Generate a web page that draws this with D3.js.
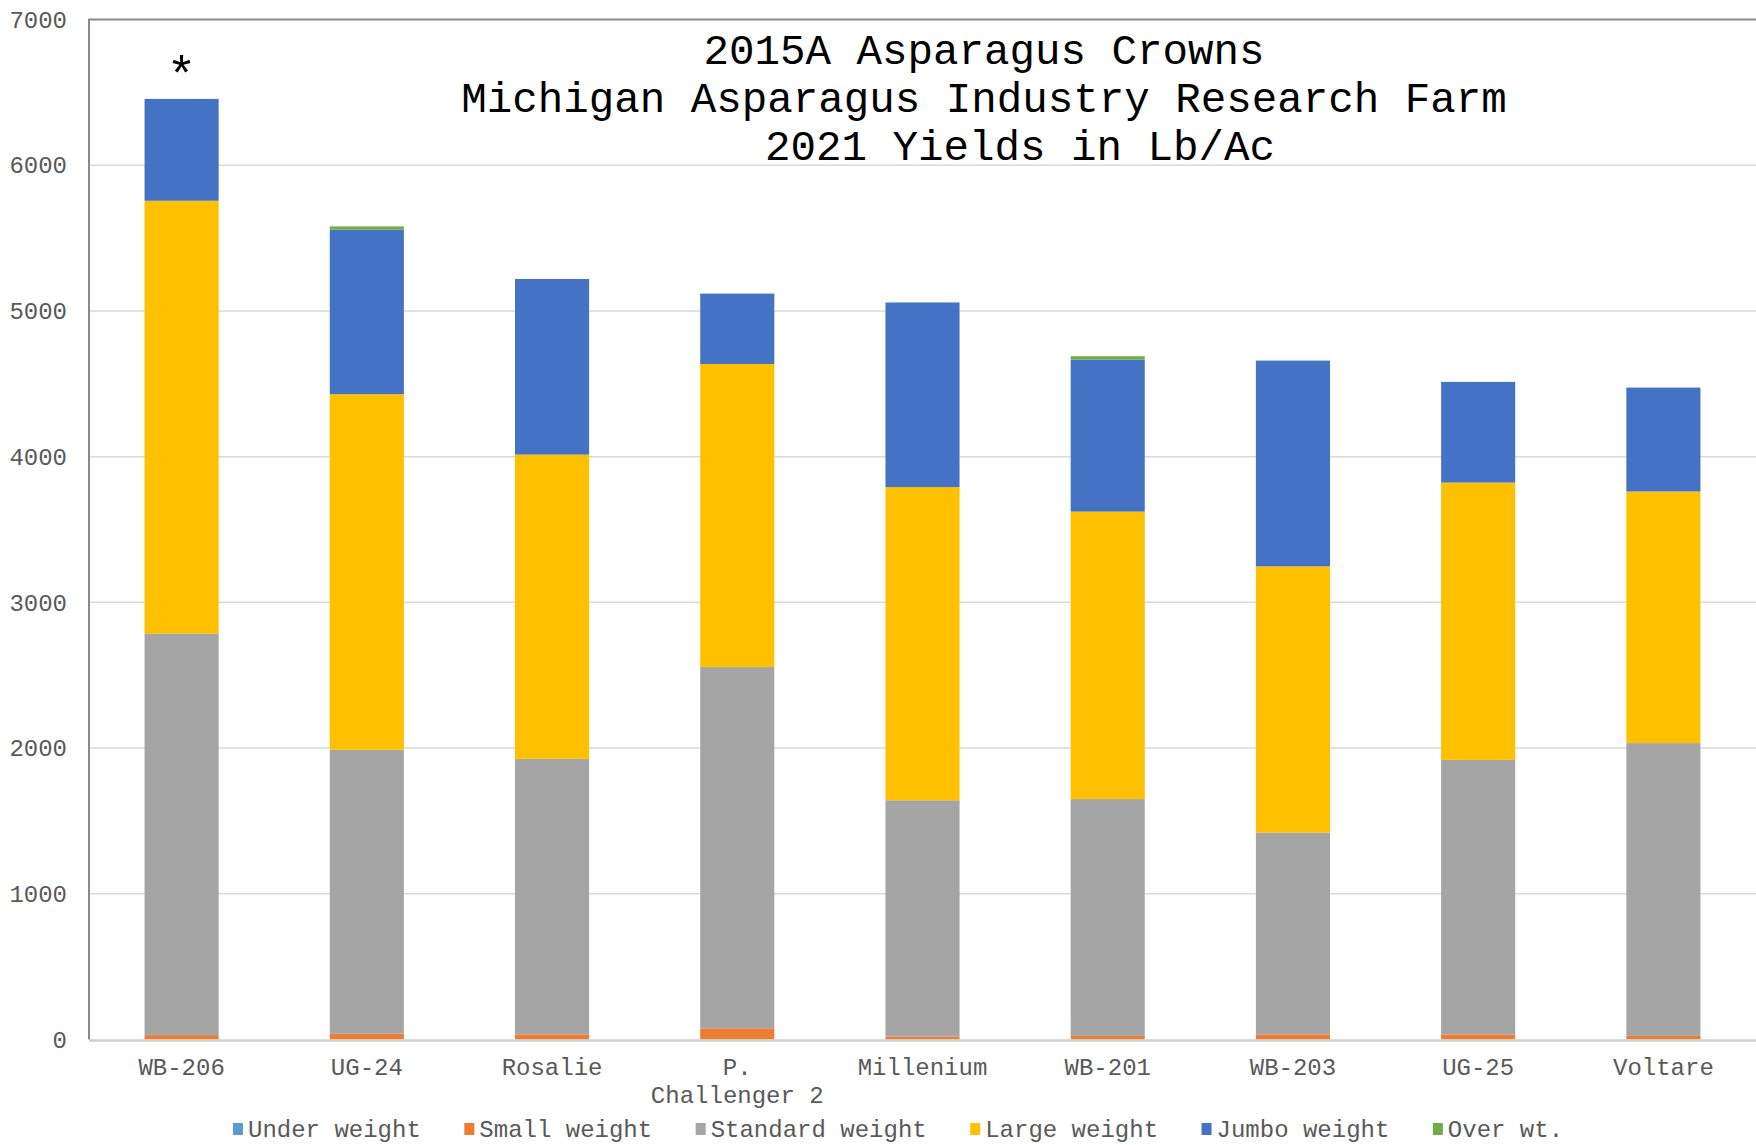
<!DOCTYPE html>
<html>
<head>
<meta charset="utf-8">
<script src="https://cdn.jsdelivr.net/npm/d3@7"></script>
<style>
    body { margin: 0; background: #fff; }
    svg text { font-family: "Courier New", "Liberation Mono", monospace; }
</style>
</head>
<body>
<div id="chart"></div>
<script>
"use strict";

// categories (a "|" splits a label over two lines)
var varieties = ["WB-206", "UG-24", "Rosalie", "P.|Challenger 2", "Millenium", "WB-201", "WB-203", "UG-25", "Voltare"];

// series names and colours, bottom to top
var seriesNames = ["Under weight", "Small weight", "Standard weight", "Large weight", "Jumbo weight", "Over wt."];
var seriesColors = ["#5B9BD5", "#ED7D31", "#A5A5A5", "#FFC000", "#4472C4", "#70AD47"];

// yields in Lb/Ac, one value per variety
var underWeight    = [0, 0, 0, 0, 0, 0, 0, 0, 0];
var smallWeight    = [30, 40, 35, 77, 20, 25, 35, 35, 25];
var standardWeight = [2756, 1948, 1891, 2479, 1622, 1625, 1385, 1884, 2009];
var largeWeight    = [2970, 2441, 2088, 2080, 2149, 1973, 1827, 1903, 1727];
var jumboWeight    = [699, 1128, 1205, 483, 1267, 1043, 1412, 691, 713];
var overWeight     = [0, 23, 0, 0, 0, 23, 0, 0, 0];

var yTicks = [0, 1000, 2000, 3000, 4000, 5000, 6000, 7000];

var titleLines = ["2015A Asparagus Crowns", "Michigan Asparagus Industry Research Farm", "2021 Yields in Lb/Ac"];

var width = 1756, height = 1145;
var margin = { top: 19.5, left: 89, right: 0, bottom: 105.5 };

var svg = d3.select("#chart").append("svg")
    .attr("width", width)
    .attr("height", height);

// build the table for d3.stack
var allSeries = [underWeight, smallWeight, standardWeight, largeWeight, jumboWeight, overWeight];
var table = varieties.map(function (v, i) {
    var row = { variety: v };
    seriesNames.forEach(function (s, j) { row[s] = allSeries[j][i]; });
    return row;
});

var stacked = d3.stack().keys(seriesNames)(table);

// scales
var xScale = d3.scaleBand()
    .domain(varieties)
    .range([margin.left, width - margin.right])
    .paddingInner(0.6)
    .paddingOuter(0.3);

var yScale = d3.scaleLinear()
    .domain([0, 7000])
    .range([height - margin.bottom, margin.top]);

// gridlines
svg.append("g")
    .selectAll("line")
    .data(yTicks.slice(1, -1))
    .enter()
    .append("line")
    .attr("x1", margin.left)
    .attr("x2", width)
    .attr("y1", function (d) { return yScale(d); })
    .attr("y2", function (d) { return yScale(d); })
    .attr("stroke", "#d9d9d9")
    .attr("stroke-width", 1.5);

// plot area border (top and left)
svg.append("path")
    .attr("d", "M" + margin.left + "," + yScale(0) + "V" + yScale(7000) + "H" + width)
    .attr("fill", "none")
    .attr("stroke", "#898989")
    .attr("stroke-width", 2);

// bars
svg.append("g")
    .selectAll("g")
    .data(stacked)
    .enter()
    .append("g")
    .attr("fill", function (d, i) { return seriesColors[i]; })
    .selectAll("rect")
    .data(function (d) { return d; })
    .enter()
    .append("rect")
    .attr("x", function (d) { return xScale(d.data.variety); })
    .attr("width", xScale.bandwidth())
    .attr("y", function (d) { return yScale(d[1]); })
    .attr("height", function (d) { return yScale(d[0]) - yScale(d[1]); });

// x axis line
svg.append("line")
    .attr("x1", margin.left)
    .attr("x2", width)
    .attr("y1", yScale(0) + 1)
    .attr("y2", yScale(0) + 1)
    .attr("stroke", "#d0d0d0")
    .attr("stroke-width", 2.5);

// y axis labels
var yAxis = svg.append("g")
    .attr("transform", "translate(" + margin.left + ",0)")
    .call(d3.axisLeft(yScale).tickValues(yTicks).tickSize(0).tickPadding(22).tickFormat(d3.format("d")));
yAxis.select(".domain").remove();
yAxis.selectAll("text")
    .style("font-family", "'Courier New', 'Liberation Mono', monospace")
    .style("font-size", "24px")
    .attr("fill", "#595959");

// x axis labels
var xAxis = svg.append("g")
    .attr("transform", "translate(0," + yScale(0) + ")")
    .call(d3.axisBottom(xScale).tickSize(0).tickFormat(""));
xAxis.select(".domain").remove();
xAxis.selectAll(".tick")
    .append("text")
    .attr("fill", "#595959")
    .attr("text-anchor", "middle")
    .style("font-size", "24px")
    .selectAll("tspan")
    .data(function (d) { return d.split("|"); })
    .enter()
    .append("tspan")
    .attr("x", 0)
    .attr("y", function (d, i) { return 35 + i * 28; })
    .text(function (d) { return d; });

// significance mark over the first bar
svg.append("text")
    .attr("x", xScale(varieties[0]) + xScale.bandwidth() / 2)
    .attr("y", yScale(d3.sum(allSeries, function (s) { return s[0]; })) - 8)
    .attr("text-anchor", "middle")
    .style("font-size", "50px")
    .text("*");

// title
var titleX = [984, 984, 1020];
svg.append("g")
    .selectAll("text")
    .data(titleLines)
    .enter()
    .append("text")
    .attr("x", function (d, i) { return titleX[i]; })
    .attr("y", function (d, i) { return 64 + i * 48; })
    .attr("text-anchor", "middle")
    .attr("fill", "#000")
    .style("font-size", "42.5px")
    .text(function (d) { return d; });

// legend
var legend = svg.append("g").attr("transform", "translate(233,1137)");
var legendX = 0;
seriesNames.forEach(function (name, i) {
    var item = legend.append("g").attr("transform", "translate(" + legendX + ",0)");
    item.append("rect")
        .attr("x", 0)
        .attr("y", -14)
        .attr("width", 10)
        .attr("height", 12)
        .attr("fill", seriesColors[i]);
    var t = item.append("text")
        .attr("x", 15)
        .attr("fill", "#595959")
        .style("font-size", "24px")
        .text(name);
    legendX += 15 + t.node().getComputedTextLength() + 43.5;
});
</script>
</body>
</html>
